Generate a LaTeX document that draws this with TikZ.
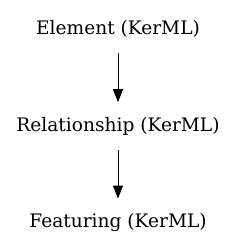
\documentclass[tikz,border=0pt]{standalone}
\usepackage{fontspec}
\setmainfont{DejaVu Serif}
\usepackage{tikz}
\usetikzlibrary{arrows.meta,positioning}

\begin{document}
\begin{tikzpicture}[
    font=\fontsize{18.6pt}{21pt}\selectfont,
    node distance=51pt,
    cls/.style={inner xsep=2pt, inner ysep=14pt,
      text height=13pt, text depth=4pt, align=center},
    arr/.style={-{Triangle[length=13pt,width=10pt]}, line width=1pt,
      draw=black, shorten >=2pt}
  ]
    \useasboundingbox (0,0) rectangle (236pt,-251pt);

    \node[cls] (elem) at (118pt,-30.5pt) {Element (KerML)};
    \node[cls, below=of elem] (rel) {Relationship (KerML)};
    \node[cls, below=of rel] (feat) {Featuring (KerML)};

    \draw[arr] (elem) -- (rel);
    \draw[arr] (rel) -- (feat);
  \end{tikzpicture}
\end{document}
